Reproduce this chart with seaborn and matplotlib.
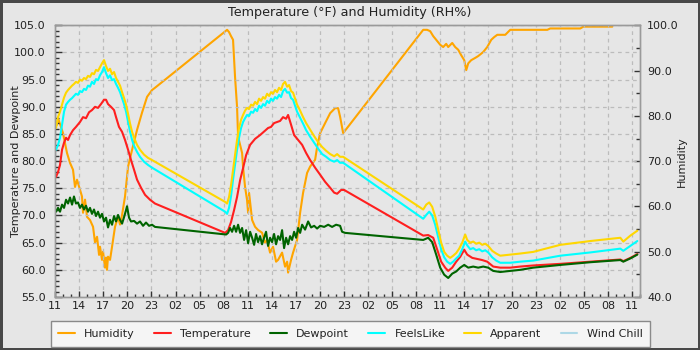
import matplotlib
matplotlib.use("Agg")
import matplotlib.pyplot as plt
import matplotlib.dates as mdates
from matplotlib.ticker import MultipleLocator, FormatStrFormatter
from matplotlib.lines import Line2D
import pandas as pd
import seaborn as sns

# ---------------- data (hours after the first 11:00 tick) ----------------
START = pd.Timestamp("2024-07-14 11:00")

hum_h = [0.2, 0.34, 0.96, 1.46, 1.84, 2.21, 2.46, 2.71, 3.08, 3.33, 3.46, 3.71, 3.96, 4.33, 4.71,
         4.96, 5.21, 5.46, 5.58, 5.83, 5.96, 6.20, 6.33, 6.45, 6.58, 6.83, 7.08, 7.45, 7.83, 8.08,
         8.33, 8.70, 9.08, 9.58, 10.20, 10.82, 11.45, 11.82, 12.07, 12.44,
         21.44, 21.68, 21.93, 22.18, 22.43, 22.68, 22.81, 23.31, 23.43, 23.68, 23.93, 24.06, 24.18,
         24.56, 24.93, 25.30, 25.80, 26.17, 26.43, 26.80, 27.17, 27.55, 27.80, 28.30, 28.67, 28.93,
         29.05, 29.42, 29.67, 30.17, 30.55, 30.92, 31.42, 31.80, 32.42, 32.67, 33.05, 33.67, 34.30,
         34.92, 35.29, 35.54, 35.92,
         45.91, 46.4, 46.78, 47.16, 47.53, 48.03, 48.40, 48.78, 49.03, 49.53, 49.90, 50.28, 50.65,
         51.03, 51.28, 51.53, 51.90, 52.40, 52.77, 53.40, 53.90, 54.40, 54.77, 55.15, 56.15, 56.77,
         61.39, 61.76, 65.51, 65.89, 69.51]
humidity = [78.0, 79.5, 76.2, 71.8, 69.6, 68.1, 64.3, 65.9, 63.7, 62.2, 58.6, 61.5, 57.7, 57.0, 55.5,
            52.0, 53.3, 49.3, 51.1, 48.2, 50.0, 46.5, 48.7, 46.0, 48.9, 48.2, 51.1, 55.5, 57.7, 56.0,
            58.1, 62.2, 68.8, 72.5, 76.9, 80.7, 84.2, 85.1, 85.7, 86.2,
            99.0, 98.5, 97.6, 96.8, 88.6, 82.0, 75.4, 71.8, 68.7, 64.3, 61.4, 58.6, 63.0,
            57.0, 55.5, 54.8, 54.2, 52.0, 52.6, 49.8, 51.1, 47.8, 48.2, 49.8, 46.7, 47.8,
            45.4, 48.2, 49.8, 52.6, 58.6, 63.0, 67.4, 68.8, 70.3, 73.1, 76.2, 78.4, 80.6,
            81.7, 81.7, 79.8, 76.2,
            99.0, 99.0, 98.7, 97.6, 96.8, 95.7, 95.2, 95.9, 95.2, 96.1, 95.2, 94.6, 93.4,
            92.3, 90.1, 91.6, 92.3, 92.8, 93.2, 94.1, 95.2, 96.8, 97.4, 97.9, 97.9, 99.0,
            99.0, 99.3, 99.3, 99.7, 99.7]

temp_h = [0.09, 0.34, 0.59, 0.84, 1.09, 1.34, 1.59, 1.84, 2.21, 2.58, 3.08, 3.46, 3.83, 4.21, 4.58,
          4.96, 5.33, 5.70, 6.08, 6.33, 6.58, 6.95, 7.33, 7.58, 7.95, 8.33, 8.70, 9.08, 9.45, 9.83,
          10.20, 10.70, 11.20, 11.82, 12.44,
          21.19, 21.56, 21.93, 22.31, 22.68, 23.06, 23.43, 23.81, 24.31, 24.93, 25.55, 26.17, 26.55,
          26.92, 27.30, 27.67, 28.05, 28.42, 28.80, 29.05, 29.42, 29.80, 30.30, 30.80, 31.30, 31.80,
          32.42, 33.05, 33.67, 34.30, 34.80, 35.17, 35.67, 36.04,
          45.91, 46.53, 47.16, 47.66, 48.15, 48.65, 49.03, 49.53, 50.03, 50.53, 51.03, 51.40, 52.03,
          52.65, 53.27, 53.90, 54.65, 55.52, 56.77, 58.02, 59.64, 63.01, 66.76, 70.51, 70.88, 71.76,
          72.63]
temperature = [77.1, 78.0, 79.3, 82.1, 83.4, 84.3, 83.9, 84.8, 85.7, 86.3, 87.2, 88.1, 87.9, 89.0, 89.4,
               90.0, 89.8, 90.5, 91.3, 91.3, 90.5, 90.0, 89.4, 88.1, 86.3, 85.4, 83.9, 82.1, 80.2, 78.4,
               76.6, 75.1, 73.8, 72.9, 72.2,
               66.8, 67.3, 68.8, 71.0, 73.4, 76.5, 78.7, 81.1, 83.0, 84.1, 84.8, 85.6, 86.1,
               86.3, 87.0, 87.2, 87.4, 88.1, 87.8, 88.5, 86.7, 84.8, 83.9, 83.0, 81.5, 80.2,
               78.8, 77.5, 76.2, 75.1, 74.2, 74.0, 74.7, 74.7,
               66.3, 66.4, 65.9, 63.7, 61.5, 60.4, 59.8, 60.4, 61.5, 62.4, 63.7, 62.8, 62.2,
               62.0, 61.8, 61.5, 60.6, 60.4, 60.4, 60.6, 60.8, 61.1, 61.5, 61.9, 61.6, 62.2,
               62.9]

dew_h = [0.09, 0.34, 0.59, 0.84, 1.09, 1.34, 1.59, 1.84, 2.09, 2.33, 2.58, 2.83, 3.08, 3.33, 3.58,
         3.83, 4.08, 4.33, 4.58, 4.83, 5.08, 5.33, 5.58, 5.83, 6.08, 6.33, 6.58, 6.83, 7.08, 7.33,
         7.58, 7.83, 8.08, 8.33, 8.58, 8.83, 8.95, 9.20, 9.45, 9.83, 10.20, 10.57, 10.95, 11.32,
         11.70, 12.07, 12.44,
         21.32, 21.56, 21.81, 22.06, 22.31, 22.56, 22.81, 23.06, 23.31, 23.56, 23.81, 24.06, 24.31,
         24.56, 24.81, 25.05, 25.30, 25.55, 25.80, 26.05, 26.30, 26.55, 26.80, 27.05, 27.30, 27.55,
         27.80, 28.05, 28.30, 28.55, 28.80, 29.05, 29.30, 29.55, 29.80, 30.05, 30.30, 30.55, 30.80,
         31.17, 31.55, 31.92, 32.30, 32.67, 33.05, 33.55, 34.05, 34.54, 35.04, 35.54, 35.79, 36.17,
         45.91, 46.53, 47.03, 47.53, 48.03, 48.53, 49.03, 49.53, 50.03, 50.53, 51.03, 51.53, 52.15,
         52.77, 53.40, 54.02, 54.65, 55.52, 56.77, 58.02, 59.64, 63.01, 66.76, 70.51, 70.88, 71.76,
         72.63]
dewpoint = [70.7, 71.4, 70.7, 72.0, 71.4, 72.9, 72.2, 73.3, 72.0, 73.5, 72.2, 72.4, 71.4, 72.0, 71.1,
            71.8, 70.7, 71.4, 70.3, 71.1, 69.9, 70.7, 69.6, 70.3, 68.9, 69.6, 67.8, 69.2, 68.3, 69.9,
            68.9, 70.1, 69.2, 68.5, 69.7, 71.0, 71.7, 69.6, 68.9, 69.0, 68.5, 68.9, 68.1, 68.7,
            68.1, 68.3, 67.9,
            66.5, 66.8, 67.7, 67.0, 68.1, 67.0, 68.3, 66.8, 67.7, 65.5, 67.3, 64.9, 67.0,
            65.9, 64.6, 66.6, 65.1, 66.2, 64.7, 65.9, 67.0, 64.4, 65.9, 65.1, 66.6, 64.7,
            66.2, 65.5, 67.3, 64.0, 65.9, 64.7, 66.2, 65.5, 67.0, 65.9, 67.7, 66.8, 68.3,
            67.4, 68.9, 67.8, 68.1, 67.6, 68.1, 67.9, 68.3, 67.9, 68.3, 68.1, 67.0, 66.8,
            65.5, 65.9, 65.1, 62.8, 60.4, 59.1, 58.5, 59.3, 59.7, 60.4, 60.9, 60.4, 60.6,
            60.4, 60.6, 60.4, 59.8, 59.6, 59.8, 60.0, 60.4, 60.9, 61.4, 61.8, 61.5, 62.1,
            62.8]

# FeelsLike and Apparent share the same sample times
feel_h = [0.09, 0.34, 0.59, 0.84, 1.09, 1.34, 1.59, 1.84, 2.09, 2.33, 2.58, 2.83, 3.08, 3.33, 3.58,
          3.83, 4.08, 4.33, 4.58, 4.83, 5.08, 5.33, 5.58, 5.83, 6.08, 6.33, 6.58, 6.83, 7.08, 7.33,
          7.58, 7.83, 8.08, 8.33, 8.58, 8.83, 9.08, 9.33, 9.58, 9.83, 10.20, 10.57, 11.07, 11.57, 12.07,
          21.19, 21.44, 21.68, 21.93, 22.18, 22.43, 22.68, 22.93, 23.18, 23.43, 23.68, 23.93, 24.18,
          24.43, 24.68, 24.93, 25.18, 25.43, 25.68, 25.93, 26.17, 26.43, 26.68, 26.92, 27.17, 27.42,
          27.67, 27.92, 28.17, 28.42, 28.67, 28.93, 29.17, 29.42, 29.67, 29.92, 30.17, 30.55, 30.92,
          31.30, 31.80, 32.30, 32.80, 33.30, 33.80, 34.30, 34.80, 35.17, 35.54, 35.92,
          45.91, 46.29, 46.66, 47.03, 47.41, 47.78, 48.15, 48.53, 48.90, 49.28, 49.65, 50.03, 50.40,
          50.78, 51.15, 51.40, 51.78, 52.15, 52.52, 52.90, 53.27, 53.65, 54.02, 54.52, 55.02, 55.52,
          56.77, 58.02, 59.64, 63.01, 66.76, 70.51, 70.88, 71.76, 72.63]
feelslike = [82.1, 83.0, 84.3, 86.7, 89.1, 90.4, 90.9, 91.3, 91.6, 92.0, 92.4, 92.2, 92.9, 92.7, 93.3,
             93.1, 93.9, 93.7, 94.6, 94.2, 95.1, 94.9, 95.8, 96.4, 97.3, 96.2, 95.3, 95.8, 94.9, 95.1,
             94.2, 93.5, 92.7, 91.6, 90.5, 89.1, 87.2, 85.4, 83.9, 82.8, 81.7, 80.8, 79.9, 79.3, 78.8,
             70.7, 70.3, 71.4, 73.6, 76.6, 79.3, 82.1, 84.3, 86.1, 87.2, 87.9, 88.5, 88.3,
             89.1, 88.9, 89.6, 89.2, 90.2, 89.8, 90.5, 90.2, 91.1, 90.7, 91.5, 91.1, 91.8,
             91.5, 92.2, 91.8, 92.9, 93.3, 92.6, 92.7, 91.6, 91.3, 90.2, 89.1, 88.0, 86.9,
             85.7, 84.5, 83.4, 82.3, 81.3, 80.8, 80.2, 79.9, 80.2, 79.7, 79.7,
             69.4, 70.1, 70.7, 70.0, 68.3, 66.0, 63.8, 62.3, 61.5, 61.1, 61.5, 62.1, 62.6,
             63.8, 65.2, 64.5, 63.8, 64.0, 63.6, 63.8, 63.4, 63.6, 63.2, 62.3, 61.7, 61.3,
             61.3, 61.5, 61.7, 62.6, 63.2, 63.9, 63.5, 64.4, 65.3]
apparent = [86.1, 88.1, 89.1, 90.4, 91.7, 92.6, 93.1, 93.5, 93.9, 94.2, 94.6, 94.4, 95.0, 94.8, 95.3,
            95.1, 95.7, 95.5, 96.2, 96.0, 96.8, 96.6, 97.3, 98.0, 98.6, 97.5, 96.6, 97.0, 96.0, 96.4,
            95.3, 94.6, 93.9, 92.7, 91.6, 90.4, 88.7, 86.9, 85.4, 84.3, 83.0, 82.1, 81.2, 80.6, 80.2,
            72.5, 72.2, 73.4, 75.6, 78.4, 81.2, 83.9, 86.1, 87.6, 88.5, 89.3, 89.8, 89.6,
            90.4, 90.2, 90.9, 90.5, 91.5, 91.1, 91.8, 91.5, 92.4, 92.0, 92.7, 92.4, 93.1,
            92.7, 93.5, 93.1, 94.2, 94.6, 93.7, 94.0, 92.9, 92.6, 91.5, 90.4, 89.3, 88.1,
            87.0, 85.8, 84.6, 83.5, 82.6, 81.9, 81.3, 80.9, 81.3, 80.8, 80.8,
            71.1, 72.0, 72.4, 71.6, 69.8, 67.4, 65.0, 63.3, 62.6, 62.2, 62.6, 63.1, 63.9,
            65.0, 66.5, 65.5, 65.0, 65.2, 64.8, 65.0, 64.6, 64.8, 64.4, 63.5, 63.0, 62.6,
            62.8, 63.0, 63.3, 64.6, 65.3, 65.9, 65.2, 66.3, 67.2]

labels = ["Humidity", "Temperature", "Dewpoint", "FeelsLike", "Apparent", "Wind Chill"]
colors = ["#ffa500", "#ff1f1f", "#006400", "#00ffff", "#ffd700", "#add8e6"]


def to_time(hours):
    return START + pd.to_timedelta(hours, unit="h")


# ---------------- style ----------------
sns.set_theme(style="white")
plt.rcParams["font.family"] = ["DejaVu Sans"]
BG = "#e6e6e6"
TXT = "#222222"

fig = plt.figure(figsize=(7, 3.5), dpi=100, facecolor=BG, edgecolor="#484848", linewidth=3.5)
ax = fig.add_axes([55.3 / 700, 1 - 297 / 350, (640.3 - 55.3) / 700, (297 - 25.3) / 350])
ax2 = ax.twinx()
ax.set_zorder(ax2.get_zorder() + 1)
ax.patch.set_visible(False)
ax2.patch.set_facecolor(BG)

LW = 1.5
sns.lineplot(x=to_time(hum_h), y=humidity, ax=ax2, color=colors[0], lw=LW,
             estimator=None, sort=False, legend=False)
series = [(temp_h, temperature), (dew_h, dewpoint), (feel_h, feelslike), (feel_h, apparent)]
for (hh, vv), c in zip(series, colors[1:5]):
    sns.lineplot(x=to_time(hh), y=vv, ax=ax, color=c, lw=LW,
                 estimator=None, sort=False, legend=False)

# axes limits & ticks
ax.set_xlim(START, START + pd.Timedelta(hours=73))
ax.set_ylim(55, 105)
ax2.set_ylim(40, 100)

ax.xaxis.set_major_locator(mdates.HourLocator(byhour=range(2, 24, 3)))
ax.xaxis.set_minor_locator(mdates.HourLocator())
ax.xaxis.set_major_formatter(mdates.DateFormatter("%H"))
ax.yaxis.set_major_locator(MultipleLocator(5))
ax.yaxis.set_minor_locator(MultipleLocator(1))
ax.yaxis.set_major_formatter(FormatStrFormatter("%.1f"))
ax2.yaxis.set_major_locator(MultipleLocator(10))
ax2.yaxis.set_minor_locator(MultipleLocator(5))
ax2.yaxis.set_major_formatter(FormatStrFormatter("%.1f"))

ax.tick_params(axis="y", which="major", direction="in", length=5, width=1, color="#333333",
               labelsize=8, pad=7, labelcolor=TXT, left=True)
ax.tick_params(axis="y", which="minor", direction="in", length=3, width=1, color="#333333", left=True)
ax.tick_params(axis="x", which="major", direction="in", length=4.5, width=1, color="#333333",
               labelsize=8, pad=3, labelcolor=TXT, bottom=True)
ax.tick_params(axis="x", which="minor", direction="in", length=2.5, width=1, color="#333333", bottom=True)
ax2.tick_params(axis="y", which="major", direction="in", length=4, width=1, color="#333333",
                labelsize=8, pad=5, labelcolor=TXT, right=True)
ax2.tick_params(axis="y", which="minor", direction="in", length=3, width=1, color="#333333", right=True)

ax.grid(True, which="major", axis="both", color="#bcbcbc", linestyle=(0, (3, 3)), linewidth=0.9)
for a in (ax, ax2):
    for s in a.spines.values():
        s.set_color("#9a9a9a")
        s.set_linewidth(1)

ax.set_xlabel("")
ax.set_ylabel("Temperature and Dewpoint", fontsize=8, color=TXT)
ax.yaxis.set_label_coords(-0.058, 0.5)
ax2.set_ylabel("Humidity", fontsize=8, color=TXT)
ax2.yaxis.set_label_coords(1.062, 0.5)

fig.text(0.5, 1 - 12.5 / 350, "Temperature (\u00b0F) and Humidity (RH%)", ha="center", va="center",
         fontsize=9.2, color=TXT)

handles = [Line2D([], [], color=c, lw=LW) for c in colors]
leg = fig.legend(handles, labels, loc="center", bbox_to_anchor=(350.5 / 700, 1 - 334 / 350),
                 ncol=6, fontsize=8, frameon=True, fancybox=False, borderpad=0.68,
                 handlelength=1.5, handletextpad=0.85, columnspacing=1.72, borderaxespad=0)
leg.get_frame().set_facecolor("#f5f5f5")
leg.get_frame().set_edgecolor("#8a8a8a")
leg.get_frame().set_alpha(1)
leg.get_frame().set_linewidth(1)
for t in leg.get_texts():
    t.set_color(TXT)

fig.savefig("out.png", dpi=100)
